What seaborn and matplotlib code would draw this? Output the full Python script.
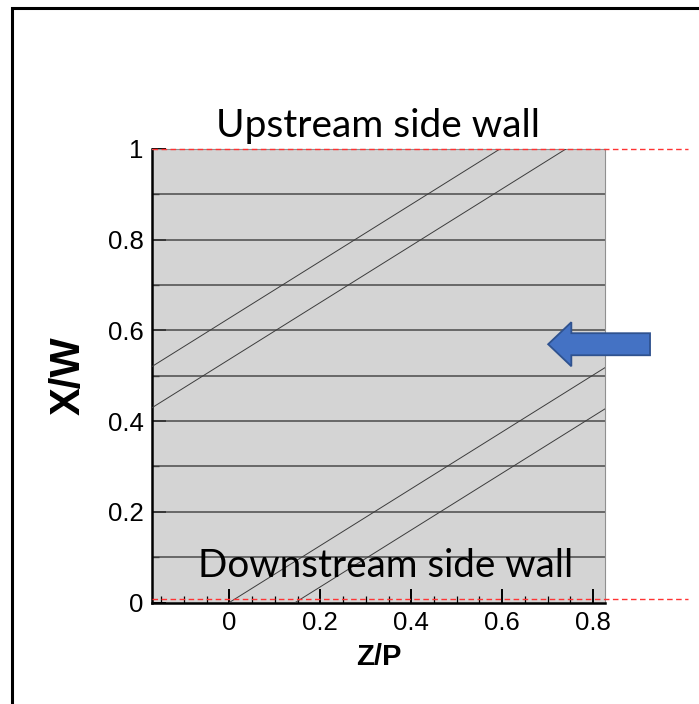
import numpy as np
import pandas as pd
import seaborn as sns
import matplotlib.pyplot as plt
from matplotlib.patches import Polygon, Rectangle

# slanted lines: Z/P where each line meets X/W=0 and X/W=1
z_bottom = [-1.0, -0.855, 0.0, 0.145]
z_top = [0.595, 0.74, 1.595, 1.74]
xw_ends = [0.0, 1.0]

# horizontal lines
xw_levels = [0.1, 0.2, 0.3, 0.4, 0.5, 0.6, 0.7, 0.8, 0.9]

# red dashed wall lines
wall_levels = [1.0, 0.008]

x_ticks = [0, 0.2, 0.4, 0.6, 0.8]
x_labels = ["0", "0.2", "0.4", "0.6", "0.8"]
y_ticks = [0, 0.2, 0.4, 0.6, 0.8, 1.0]
y_labels = ["0", "0.2", "0.4", "0.6", "0.8", "1"]

sns.set_style("white")
plt.rcParams['font.family'] = ['Liberation Sans', 'DejaVu Sans']
plt.rcParams['text.color'] = 'black'
plt.rcParams['axes.labelcolor'] = 'black'

W, H = 699, 704
fig = plt.figure(figsize=(W / 100, H / 100), dpi=100)
ax = fig.add_axes([152 / W, 1 - 602.5 / H, 453 / W, 453.5 / H])
ax.set_facecolor('#d4d4d4')

rows = []
for i, (zb, zt) in enumerate(zip(z_bottom, z_top)):
    rows.append({'line': i, 'z': zb, 'xw': xw_ends[0]})
    rows.append({'line': i, 'z': zt, 'xw': xw_ends[1]})
df = pd.DataFrame(rows)

for y in xw_levels:
    ax.axhline(y, color='#4a4a4a', lw=1.1, zorder=2)

sns.lineplot(data=df, x='z', y='xw', units='line', estimator=None, sort=False,
             color='#3c3c3c', lw=0.7, ax=ax, zorder=3)

ax.set_xlim(-0.17, 0.826)
ax.set_ylim(0, 1)

for y in wall_levels:
    ax.plot([-0.17, 1.009], [y, y], color='#ff3333', lw=1.0, ls=(0, (4, 2.5)),
            clip_on=False, zorder=5)

ax.set_xticks(x_ticks)
ax.set_xticklabels(x_labels)
ax.set_yticks(y_ticks)
ax.set_yticklabels(y_labels)
ax.set_xticks(np.arange(-0.15, 0.83, 0.05), minor=True)
ax.set_yticks(np.arange(0.1, 1.0, 0.2), minor=True)
ax.tick_params(axis='both', which='major', direction='in', length=10, width=1.4,
               labelsize=18.5, colors='black', labelcolor='black', pad=6,
               left=True, bottom=True)
ax.tick_params(axis='both', which='minor', direction='in', length=5, width=0.9,
               left=True, bottom=True, colors='black')

for s in ['left', 'bottom']:
    ax.spines[s].set_color('black')
    ax.spines[s].set_linewidth(1.8)
for s in ['right', 'top']:
    ax.spines[s].set_color('#909090')
    ax.spines[s].set_linewidth(0.8)

ax.set_xlabel("Z/P", fontsize=21, fontweight='bold', labelpad=6, color='black')
ax.set_ylabel("X/W", fontsize=30, fontweight='bold', labelpad=14, color='black')

ax.text(0.5, 1.027, "Upstream side wall", transform=ax.transAxes, ha='center',
        va='baseline', fontsize=28, color='black',
        family=['Lato', 'DejaVu Sans'], zorder=6)
ax.text(0.516, 0.056, "Downstream side wall", transform=ax.transAxes, ha='center',
        va='baseline', fontsize=27.8, color='black',
        family=['Lato', 'DejaVu Sans'], zorder=6)

# blue arrow pointing left
tip_x, tail_x, head_x, cy = 0.701, 0.925, 0.752, 0.5695
head_h, shaft_h = 0.0486, 0.0243
arrow = Polygon([[tip_x, cy], [head_x, cy + head_h], [head_x, cy + shaft_h],
                 [tail_x, cy + shaft_h], [tail_x, cy - shaft_h],
                 [head_x, cy - shaft_h], [head_x, cy - head_h]],
                closed=True, facecolor='#4472c4', edgecolor='#2f528f', lw=1.3,
                clip_on=False, zorder=7)
ax.add_patch(arrow)

# outer frame
fig.patches.append(Rectangle((12 / W, -0.1), 1.2, (H - 8) / H + 0.1,
                             transform=fig.transFigure, fill=False,
                             edgecolor='black', lw=2.2))

fig.savefig('out.png', dpi=100)
